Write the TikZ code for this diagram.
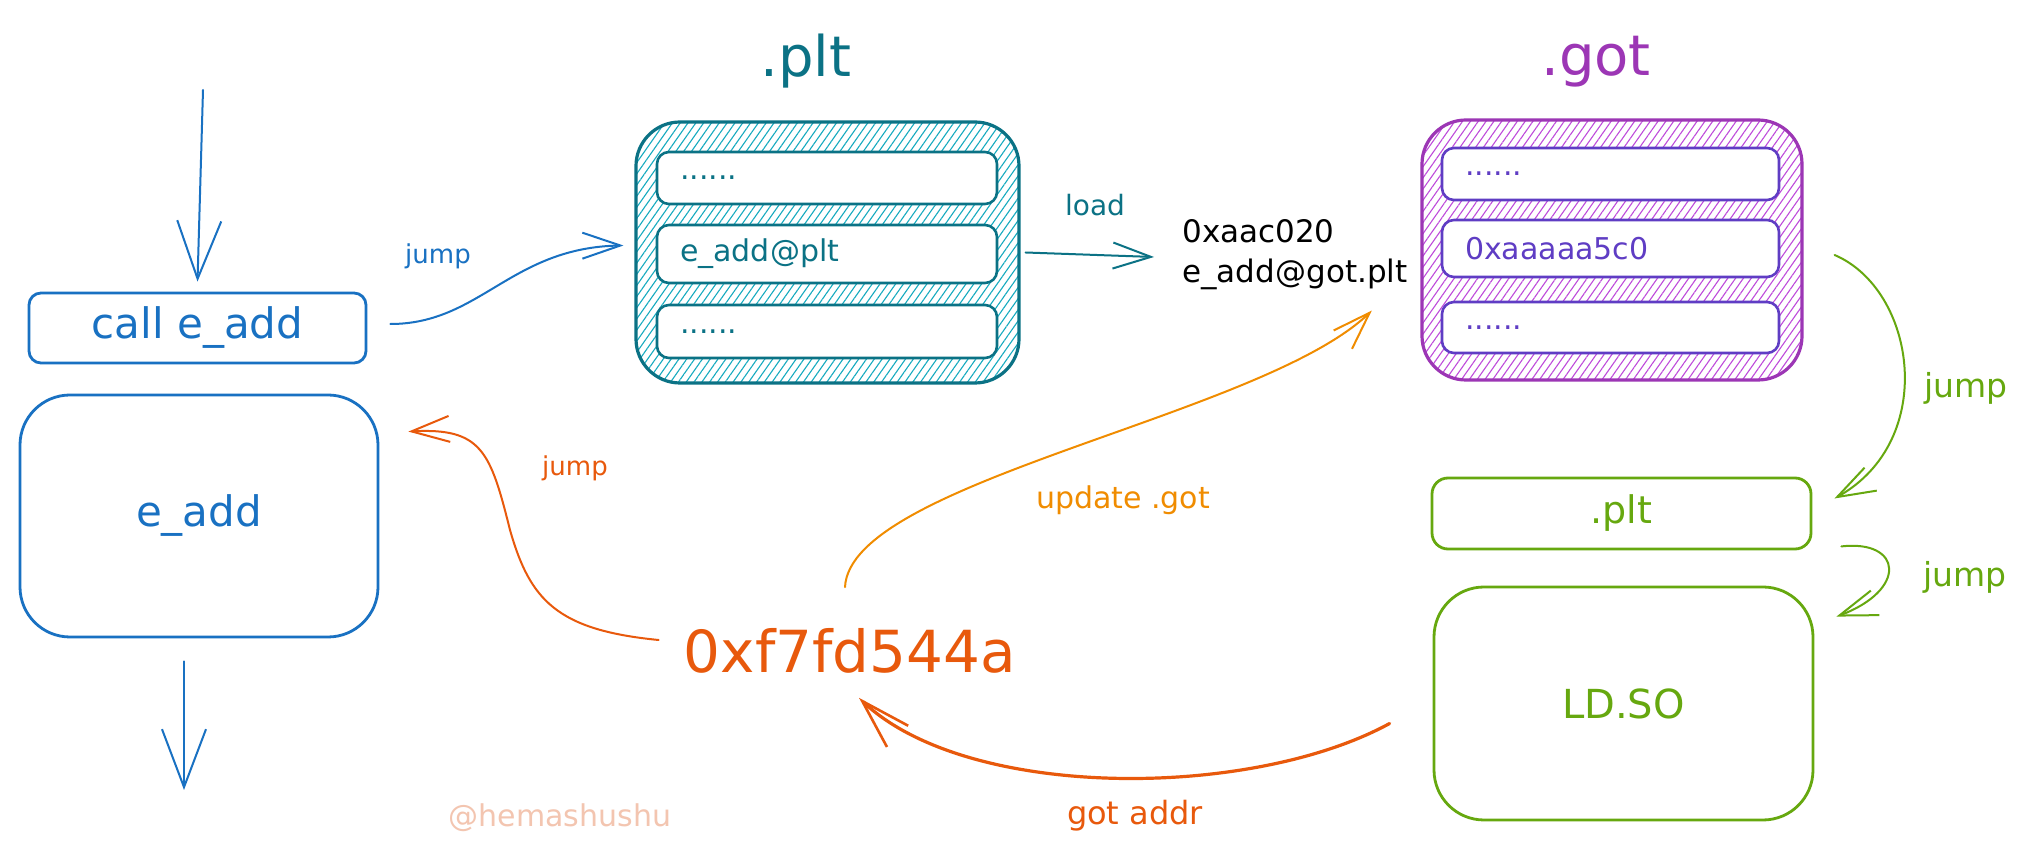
\documentclass[tikz,border=0pt]{standalone}
\usepackage{fontspec}
\setmainfont{DejaVu Sans}
\usetikzlibrary{arrows.meta,bending,patterns.meta,fit,calc}
\definecolor{cblue}{HTML}{1971C2}
\definecolor{cteal}{HTML}{0B7285}
\definecolor{ctealhatch}{HTML}{15AABF}
\definecolor{cpurple}{HTML}{9C36B5}
\definecolor{cpurplehatch}{HTML}{BE4BDB}
\definecolor{cindigo}{HTML}{5F3DC4}
\definecolor{cgreen}{HTML}{66A80F}
\definecolor{cred}{HTML}{E8590C}
\definecolor{corange}{HTML}{F08C00}
\definecolor{csalmon}{HTML}{F3C5B0}
\tikzset{
  box/.style={draw, line width=1.4pt, rounded corners=#1, inner sep=0pt},
  box/.default=6pt,
  rowbox/.style={box=6pt, line width=1.3pt, fill=white},
  rowtext/.style={anchor=west, xshift=12pt, inner sep=0pt, font=\fontsize{15}{18}\selectfont},
  boxtext/.style={inner sep=0pt, font=\fontsize{#1}{#1}\selectfont},
  txt/.style={inner sep=0pt},
  arr/.style={line width=1pt, line cap=round, -{Straight Barb[length=19pt,width=13pt,line width=1pt,flex]}},
  bigarr/.style={line width=1pt, line cap=round, -{Straight Barb[length=29pt,width=22pt,line width=1pt]}},
  hatchteal/.style={pattern={Lines[angle=55,distance=3.2pt,line width=0.55pt]}, pattern color=ctealhatch},
  hatchpurple/.style={pattern={Lines[angle=55,distance=3.2pt,line width=0.55pt]}, pattern color=cpurplehatch},
}
\begin{document}
\begin{tikzpicture}[x=0.5pt,y=-0.5pt]
\useasboundingbox[fill=white] (0,0) rectangle (2031,860);

% ---------- left column ----------
\node[box=6pt, draw=cblue, fit={(29,293) (366,363)},
      label={[boxtext=21, text=cblue]center:call e\_add}] (call) {};
\node[box=25pt, draw=cblue, fit={(20,395) (378,637)},
      label={[boxtext=21, text=cblue]center:e\_add}] (eadd) {};
\coordinate (in) at (203,90);
\coordinate (out) at (184,790);
\draw[bigarr, cblue] (in) -- ($(call.north)+(0,-10)$);
\draw[bigarr, cblue] ($(eadd.south -| out)+(0,23)$) -- (out);

% ---------- .plt section ----------
\node[txt, text=cteal, font=\fontsize{28}{32}\selectfont] (plttitle) at (806,61) {.plt};
\node[box=22pt, draw=cteal, line width=1.6pt, hatchteal,
      fit={(636,122) (1019,383)}] (plt) {};
\node[rowbox, draw=cteal, fit={(657,152) (997,204)},
      label={[rowtext, text=cteal]west:......}] (plt1) {};
\node[rowbox, draw=cteal, fit={(657,225) (997,283)},
      label={[rowtext, text=cteal]west:e\_add@plt}] (plt2) {};
\node[rowbox, draw=cteal, fit={(657,305) (997,358)},
      label={[rowtext, text=cteal]west:......}] (plt3) {};

% ---------- .got section ----------
\node[txt, text=cpurple, font=\fontsize{28}{32}\selectfont] (gottitle) at (1596,62) {.got};
\node[box=22pt, draw=cpurple, line width=1.6pt, hatchpurple,
      fit={(1422,120) (1802,380)}] (got) {};
\node[rowbox, draw=cindigo, fit={(1442,148) (1779,200)},
      label={[rowtext, text=cindigo]west:......}] (got1) {};
\node[rowbox, draw=cindigo, fit={(1442,220) (1779,277)},
      label={[rowtext, text=cindigo]west:0xaaaaa5c0}] (got2) {};
\node[rowbox, draw=cindigo, fit={(1442,302) (1779,353)},
      label={[rowtext, text=cindigo]west:......}] (got3) {};

\node[txt, anchor=west, align=left, font=\fontsize{15.5}{20}\selectfont] (gotaddr) at (1182,255)
  {0xaac020\\e\_add@got.plt};

% ---------- right column ----------
\node[box=8pt, draw=cgreen, fit={(1432,478) (1811,549)},
      label={[boxtext=19, text=cgreen]center:.plt}] (pltg) {};
\node[box=25pt, draw=cgreen, fit={(1434,587) (1813,820)},
      label={[boxtext=20, text=cgreen]center:LD.SO}] (ldso) {};

% ---------- address ----------
\node[txt, text=cred, font=\fontsize{29}{34}\selectfont] (addr) at (850,651) {0xf7fd544a};
\node[txt, text=csalmon, font=\fontsize{15}{18}\selectfont] (sign) at (560,818) {@hemashushu};

% ---------- connectors ----------
\draw[arr, cblue] ($(call.east)+(23,-4)$) .. controls +(91,0) and +(-112,0) .. ($(plt.west)+(-12,-7)$);
\node[txt, text=cblue, font=\fontsize{13}{16}\selectfont] (ljump1) at (438,256) {jump};

\draw[arr, cteal] ($(plt.east)+(6,0)$) -- ($(gotaddr.west)+(-28,2)$);
\node[txt, text=cteal, font=\fontsize{14}{17}\selectfont] (lload) at (1095,205) {load};

\draw[arr, cgreen] ($(got.east)+(31,5)$) .. controls +(82,35) and +(105,-55) .. ($(pltg.east)+(22,-15)$);
\node[txt, text=cgreen, font=\fontsize{16.5}{20}\selectfont] (ljump2) at (1966,388) {jump};

\draw[arr, cgreen] ($(pltg.south east)+(29,-4)$) .. controls +(62,-7) and +(72,-25) .. ($(ldso.north east)+(22,31)$);
\node[txt, text=cgreen, font=\fontsize{16.5}{20}\selectfont] (ljump3) at (1965,577) {jump};

\draw[cred, line width=1.6pt, line cap=round, -{Straight Barb[length=25pt,width=15pt,line width=1.3pt,flex]}]
  ($(ldso.west)+(-43,20)$) .. controls +(-141,77) and +(101,103) .. ($(addr.south)+(9,24)$);
\node[txt, text=cred, font=\fontsize{16}{19}\selectfont] (lgot) at (1135,816) {got addr};

\draw[arr, cred] ($(addr.west)+(-25,-11)$) .. controls +(-102,-10) and +(20,70) .. (510,530)
  .. controls +(-20,-80) and +(73,-5) .. ($(eadd.north east)+(29,38)$);
\node[txt, text=cred, font=\fontsize{13}{16}\selectfont] (ljump4) at (575,468) {jump};

\draw[arr, corange] ($(addr.north)+(-5,-41)$) .. controls +(5,-107) and +(-103,105) .. ($(gotaddr.south east)+(-36,20)$);
\node[txt, text=corange, font=\fontsize{15}{18}\selectfont] (lupd) at (1123,500) {update .got};
\end{tikzpicture}
\end{document}
